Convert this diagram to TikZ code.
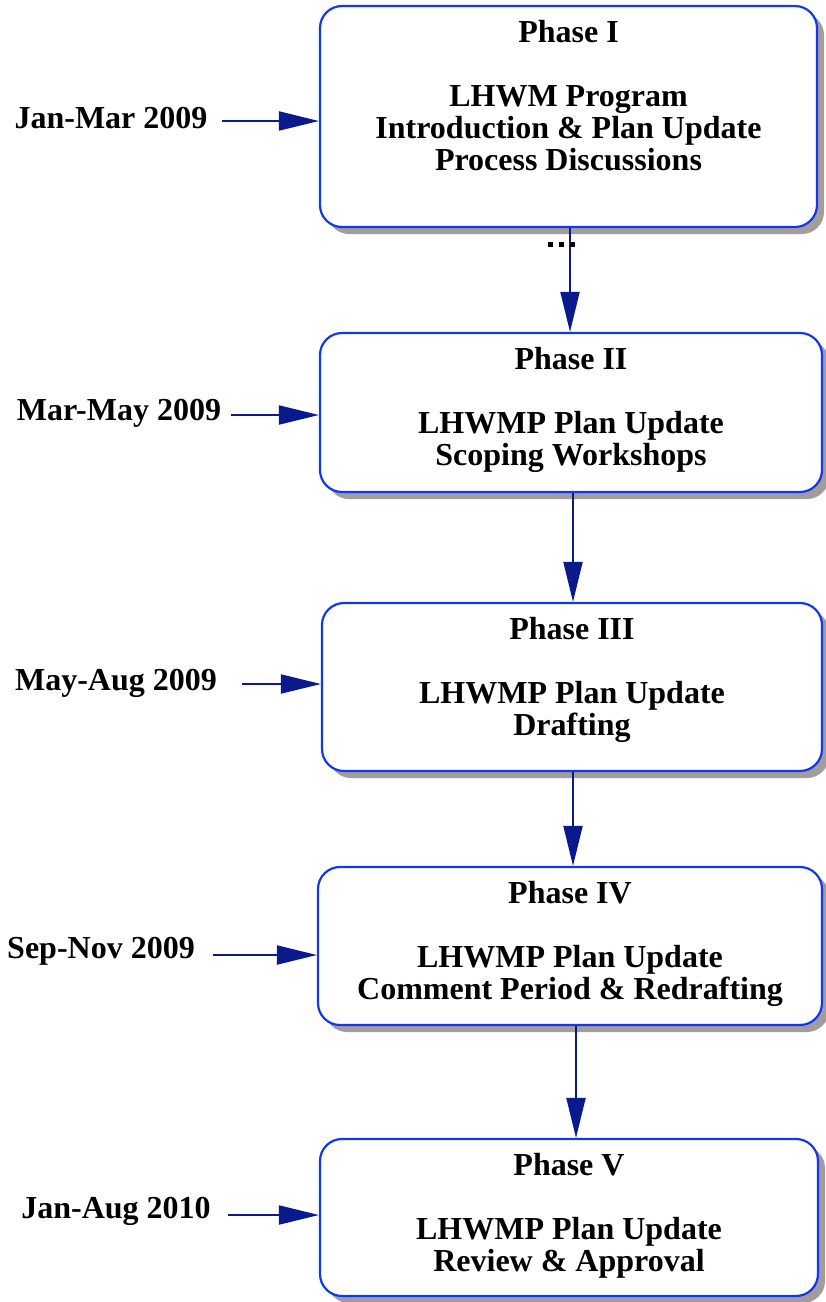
\documentclass[tikz,border=0pt]{standalone}
\usepackage{fontspec}
\setmainfont{Liberation Serif}
\usepackage{xcolor}
\usepackage{tikz}
\usetikzlibrary{arrows.meta,shadows,positioning}
\definecolor{boxblue}{HTML}{1238E8}
\definecolor{arrownavy}{HTML}{0A1A8C}
\definecolor{shadowgray}{HTML}{A39C9C}
\tikzset{
	>={Triangle[length=40pt,width=19pt]},
	phasebox/.style = {
			draw            = boxblue,
			line width      = 2.2pt,
			fill            = white,
			rounded corners = 22pt,
			inner sep       = 0pt,
			drop shadow     = {shadow xshift=7pt, shadow yshift=-7pt,
					fill=shadowgray, opacity=1},
		},
	phasetext/.style = {
			anchor    = north,
			inner sep = 0pt,
			align     = center,
			font      = \fontsize{32}{32}\selectfont\bfseries,
		},
	datetext/.style = {
			inner sep = 0pt,
			font      = \fontsize{32}{32}\selectfont\bfseries,
		},
	flow/.style = {->, draw=arrownavy, line width=2pt},
}

\begin{document}
\begin{tikzpicture}[x=1pt,y=-1pt]
	\useasboundingbox (0,0) rectangle (826,1302);
	% Phases
	\node[phasebox, minimum width=497pt, minimum height=221pt] (Phase1) at (568.5,116.5) {};
	\node[phasebox, minimum width=502pt, minimum height=159pt] (Phase2) at (571,412.5) {};
	\node[phasebox, minimum width=500pt, minimum height=168pt] (Phase3) at (572,687) {};
	\node[phasebox, minimum width=504pt, minimum height=158pt] (Phase4) at (570,946) {};
	\node[phasebox, minimum width=498pt, minimum height=157pt] (Phase5) at (569,1217.5) {};

	\node[phasetext] (Phase1 text) at ([yshift=-15pt]Phase1.north) {Phase I\\[32pt]LHWM Program\\Introduction \& Plan Update\\Process Discussions};
	\node[phasetext] (Phase2 text) at ([yshift=-15pt]Phase2.north) {Phase II\\[32pt]LHWMP Plan Update\\Scoping Workshops};
	\node[phasetext] (Phase3 text) at ([yshift=-15pt]Phase3.north) {Phase III\\[32pt]LHWMP Plan Update\\Drafting};
	\node[phasetext] (Phase4 text) at ([yshift=-15pt]Phase4.north) {Phase IV\\[32pt]LHWMP Plan Update\\Comment Period \& Redrafting};
	\node[phasetext] (Phase5 text) at ([yshift=-15pt]Phase5.north) {Phase V\\[32pt]LHWMP Plan Update\\Review \& Approval};

	% Dates
	\node[datetext] (Date1) at (111,118) {Jan-Mar 2009};
	\node[datetext] (Date2) at (119,413) {Mar-May 2009};
	\node[datetext] (Date3) at (116,683) {May-Aug 2009};
	\node[datetext] (Date4) at (101,951) {Sep-Nov 2009};
	\node[datetext] (Date5) at (116,1211) {Jan-Aug 2010};

	\coordinate (Start1) at (222,121);
	\coordinate (Start2) at (231,415);
	\coordinate (Start3) at (242,684);
	\coordinate (Start4) at (213,955);
	\coordinate (Start5) at (228,1215);

	\draw[flow] (Start1) to (Start1 -| Phase1.west);
	\draw[flow] (Start2) to (Start2 -| Phase2.west);
	\draw[flow] (Start3) to (Start3 -| Phase3.west);
	\draw[flow] (Start4) to (Start4 -| Phase4.west);
	\draw[flow] (Start5) to (Start5 -| Phase5.west);

	\draw[flow] ([xshift=1.5pt]Phase1.south) to ([xshift=1.5pt]Phase1.south |- Phase2.north);
	\draw[flow] ([xshift=2pt]Phase2.south) to ([xshift=2pt]Phase2.south |- Phase3.north);
	\draw[flow] ([xshift=1pt]Phase3.south) to ([xshift=1pt]Phase3.south |- Phase4.north);
	\draw[flow] ([xshift=6pt]Phase4.south) to ([xshift=6pt]Phase4.south |- Phase5.north);

	\node[inner sep=0pt] (Dots) at (561.5,244.5) {\rule{5pt}{5pt}\hspace{6pt}\rule{5pt}{5pt}\hspace{6pt}\rule{5pt}{5pt}};
\end{tikzpicture}
\end{document}
